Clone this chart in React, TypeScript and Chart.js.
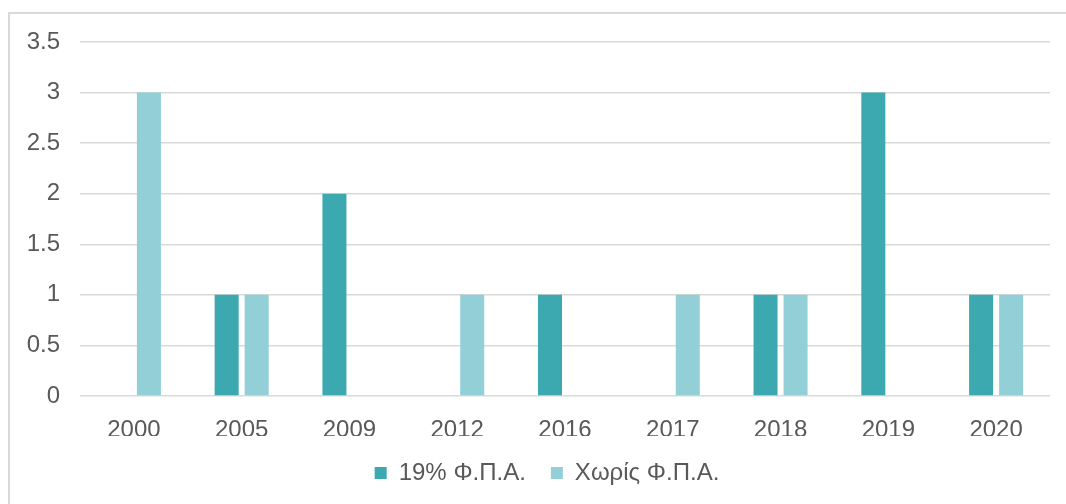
import React, { useEffect, useRef } from "react";
import { Chart, registerables } from "chart.js";

Chart.register(...registerables);

const categories = ["2000", "2005", "2009", "2012", "2016", "2017", "2018", "2019", "2020"];
const vat19 = [0, 1, 2, 0, 1, 0, 1, 3, 1];
const noVat = [3, 1, 0, 1, 0, 1, 1, 0, 1];
const seriesNames = ["19% Φ.Π.Α.", "Χωρίς Φ.Π.Α."];
const seriesColors = ["#3CA8B0", "#92CFD6"];
const yMin = 0;
const yMax = 3.5;
const yStep = 0.5;

const FONT = "'Liberation Sans', Arial, sans-serif";
const TEXT = "#595959";
const GRID = "#d9d9d9";

const shiftLegend = {
  id: "shiftLegend",
  afterLayout(chart: any) {
    const l = chart.legend;
    if (l) {
      l.left += 22;
      l.right += 22;
    }
  },
};

export default function App() {
  const ref = useRef<HTMLCanvasElement | null>(null);
  useEffect(() => {
    if (!ref.current) return;
    const chart = new Chart(ref.current, {
      type: "bar",
      data: {
        labels: categories,
        datasets: [
          {
            label: seriesNames[0],
            data: vat19,
            backgroundColor: seriesColors[0],
            borderWidth: 0,
            categoryPercentage: 0.557,
            barPercentage: 0.8,
          },
          {
            label: seriesNames[1],
            data: noVat,
            backgroundColor: seriesColors[1],
            borderWidth: 0,
            categoryPercentage: 0.557,
            barPercentage: 0.8,
          },
        ],
      },
      plugins: [shiftLegend],
      options: {
        animation: false,
        responsive: true,
        maintainAspectRatio: false,
        layout: { padding: { left: 0, right: 16, top: 42, bottom: 9 } },
        plugins: {
          tooltip: { enabled: false },
          legend: {
            position: "bottom",
            labels: {
              boxWidth: 12,
              boxHeight: 12,
              padding: 25,
              color: TEXT,
              font: { family: FONT, size: 24 },
            },
          },
        },
        scales: {
          x: {
            grid: { display: false },
            border: { display: false },
            ticks: {
              color: TEXT,
              font: { family: FONT, size: 24 },
              padding: 12,
              maxRotation: 0,
            },
            afterFit: (s: any) => {
              s.height = 40;
            },
          },
          y: {
            min: yMin,
            max: yMax,
            grid: { color: GRID, lineWidth: 1.5, drawTicks: false },
            border: { display: false },
            ticks: {
              stepSize: yStep,
              color: TEXT,
              font: { family: FONT, size: 24 },
              padding: 20,
              callback: (v: any) => String(v),
            },
            afterFit: (s: any) => {
              s.width = 80;
            },
          },
        },
      },
    });
    return () => chart.destroy();
  }, []);

  return (
    <div
      style={{
        position: "fixed",
        left: 0,
        top: 0,
        width: 1066,
        height: 504,
        overflow: "hidden",
        background: "#fff",
      }}
    >
      <div
        style={{
          position: "absolute",
          left: 8,
          top: 12,
          width: 1100,
          height: 600,
          border: "2px solid #d9d9d9",
          boxSizing: "border-box",
        }}
      />
      <div style={{ position: "absolute", left: 0, top: 0, width: 1066, height: 504 }}>
        <canvas ref={ref} />
      </div>
    </div>
  );
}
